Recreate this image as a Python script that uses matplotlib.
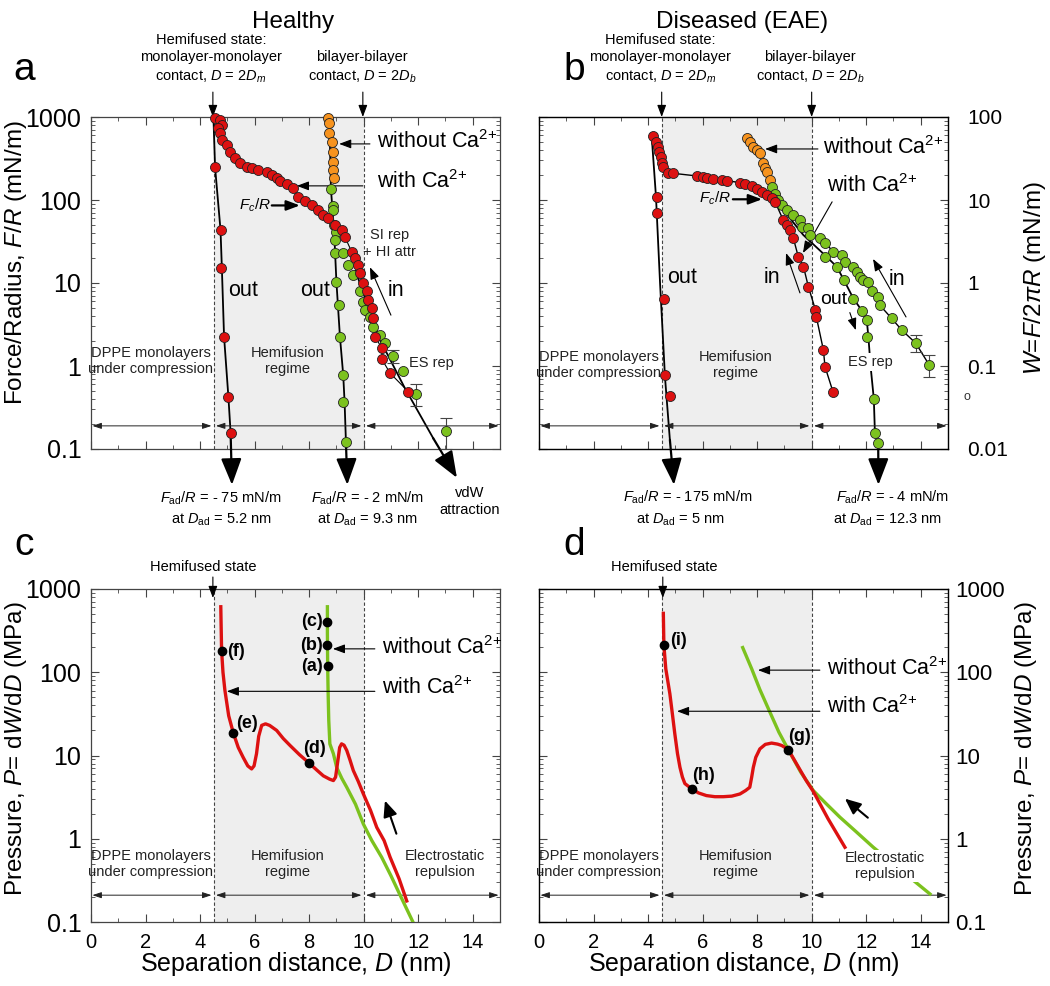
import numpy as np
import matplotlib
matplotlib.use('Agg')
import matplotlib.pyplot as plt
from matplotlib.ticker import MultipleLocator, LogLocator, FixedLocator, FixedFormatter, NullFormatter

plt.rcParams['font.family'] = ['Liberation Sans', 'DejaVu Sans']
plt.rcParams['mathtext.fontset'] = 'custom'
plt.rcParams['mathtext.rm'] = 'Liberation Sans'
plt.rcParams['mathtext.it'] = 'Liberation Sans:italic'
plt.rcParams['mathtext.bf'] = 'Liberation Sans:bold'
plt.rcParams['axes.linewidth'] = 0.9

RED = '#dd1111'
GREEN = '#7cc21e'
ORANGE = '#f7931e'
SHADE = '#eeeeee'
CA = r'Ca$^{2{+}}$'

# ---------------- panel a : healthy, force runs ----------------
h_red_in_x = [4.55, 4.73, 4.79, 4.67, 4.73, 4.79, 4.97, 5.10, 5.28, 5.46, 5.71, 5.89, 6.14, 6.44,
              6.63, 6.81, 6.93, 7.17, 7.42, 7.60, 7.85, 8.09, 8.34, 8.52, 8.70, 8.95, 9.19, 9.31,
              9.56, 9.68, 9.80, 9.86, 9.99, 10.11, 10.17, 10.30, 10.36, 10.42, 10.67, 10.67, 10.97, 11.64]
h_red_in_y = [964, 920, 801, 730, 636, 528, 460, 382, 318, 277, 248, 241, 230, 219,
              200, 182, 171, 156, 138, 110, 98, 87, 76, 66, 60, 50, 43.6, 36,
              23.8, 19.9, 16.5, 13.1, 9.9, 7.9, 6.2, 4.95, 3.76, 2.25, 1.63, 1.2, 0.82, 0.49]
h_red_out_x = [4.55, 4.75, 4.75, 4.88, 5.04, 5.12]
h_red_out_y = [248, 43.6, 15.0, 2.25, 0.42, 0.157]
h_red_line_x = [4.49, 4.55, 4.75, 4.80, 4.88, 5.04, 5.12]
h_red_line_y = [1000, 248, 43.6, 15.0, 2.25, 0.42, 0.157]

h_orange_x = [8.70, 8.73, 8.74, 8.83, 8.86, 8.89, 8.86, 8.91]
h_orange_y = [964, 843, 636, 504, 382, 290, 230, 182]
h_green_in_x = [8.79, 8.89, 8.86, 8.91, 8.99, 8.95, 8.95, 9.25, 9.44, 9.62, 9.86, 9.99, 10.05,
                10.23, 10.36, 10.60, 10.79, 11.09, 11.46, 11.92, 13.02]
h_green_in_y = [135, 85, 76, 50, 41.5, 33, 22.8, 22.8, 16.5, 12.5, 7.9, 5.95, 4.73,
                3.93, 2.97, 2.36, 1.88, 1.32, 0.88, 0.46, 0.165]
h_green_out_x = [8.99, 9.11, 9.13, 9.25, 9.23, 9.35]
h_green_out_y = [10.4, 5.43, 2.25, 0.78, 0.37, 0.121]
h_bil_line_x = [8.74, 8.80, 8.92, 9.00, 9.13, 9.25, 9.30, 9.35]
h_bil_line_y = [1000, 135, 40, 10.4, 2.25, 0.78, 0.37, 0.121]
h_vdw_line_x = [9.70, 10.60, 11.50, 12.55]
h_vdw_line_y = [14, 2.06, 0.55, 0.135]
h_err_x = [11.09, 11.92, 13.02]
h_err_y = [1.32, 0.46, 0.165]
h_err_lo = [1.08, 0.33, 0.10]
h_err_hi = [1.56, 0.61, 0.236]

# ---------------- panel b : diseased, force runs ----------------
d_red_in_x = [4.19, 4.29, 4.38, 4.41, 4.46, 4.50, 4.56, 4.74, 4.90, 5.78, 6.03, 6.15, 6.39, 6.70,
              6.88, 7.37, 7.55, 7.80, 7.98, 8.17, 8.35, 8.53, 8.66, 8.96, 9.08, 9.21, 9.33, 9.51,
              9.70, 9.88, 10.14, 10.17, 10.43, 10.49, 10.79]
d_red_in_y = [590, 505, 440, 382, 327, 277, 252, 213, 210, 195, 191, 182, 179, 174,
              171, 162, 156, 148, 135, 126, 115, 105, 95, 57, 50, 43.6, 34.5, 20.7,
              15.7, 9.0, 4.73, 3.93, 1.56, 0.98, 0.48]
d_red_out_x = [4.32, 4.32, 4.58, 4.62, 4.80]
d_red_out_y = [108, 70, 6.5, 0.78, 0.435]
d_red_line_x = [4.13, 4.29, 4.44, 4.62, 4.80]
d_red_line_y = [606, 110, 9.9, 0.74, 0.129]

d_orange_x = [7.62, 7.74, 7.84, 7.98, 8.11, 8.23, 8.29, 8.37, 8.47]
d_orange_y = [554, 496, 440, 400, 365, 277, 241, 219, 174]
d_green_in_x = [8.53, 8.65, 8.78, 8.90, 9.08, 9.33, 9.57, 9.63, 9.88, 9.94, 10.30, 10.49, 10.79,
                11.10, 11.22, 11.53, 11.65, 11.77, 11.87, 12.08, 12.20, 12.44, 12.50, 12.93,
                13.30, 13.82, 14.31]
d_green_in_y = [145, 118, 100, 87, 76, 66, 57, 47.6, 45.6, 38, 34.5, 30.6, 23.8,
                21.7, 18.1, 15.7, 13.7, 11.9, 10.9, 10.4, 7.9, 6.7, 5.4, 3.76,
                2.72, 1.88, 1.03]
d_green_out_x = [10.49, 10.92, 11.18, 11.53, 11.85, 12.02, 12.02, 12.28, 12.32, 12.44]
d_green_out_y = [20.7, 15.7, 10.9, 6.5, 4.6, 3.58, 2.25, 0.40, 0.155, 0.117]
d_out_line_x = [8.96, 9.69, 10.55, 10.92, 11.18, 11.53, 11.85, 12.02, 12.08, 12.16, 12.28, 12.32, 12.44]
d_out_line_y = [76, 38, 20.7, 15.7, 10.9, 6.5, 4.6, 3.58, 2.25, 1.0, 0.40, 0.155, 0.117]
d_err_x = [13.82, 14.31]
d_err_y = [1.88, 1.03]
d_err_lo = [1.49, 0.74]
d_err_hi = [2.36, 1.36]

# ---------------- panel c : healthy, pressure ----------------
c_red_x = [4.76, 4.77, 4.79, 4.84, 4.91, 5.05, 5.22, 5.40, 5.58, 5.75, 5.89, 5.98, 6.07, 6.15, 6.26,
           6.40, 6.55, 6.81, 7.05, 7.30, 7.65, 8.00, 8.30, 8.52, 8.75, 8.89, 8.97, 9.05, 9.12, 9.19,
           9.28, 9.38, 9.50, 9.62, 9.80, 9.99, 10.25, 10.48, 10.75, 10.97, 11.30, 11.58]
c_red_y = [612, 400, 181, 100, 61, 30, 18.6, 12.5, 9.5, 7.5, 6.9, 7.5, 10.5, 17, 23,
           24, 23, 20, 16, 13.2, 10.2, 8.1, 6.6, 5.7, 5.2, 5.0, 5.5, 8.5, 12.5, 13.8,
           13.3, 11.5, 8.8, 6.6, 4.9, 3.45, 2.2, 1.37, 0.95, 0.6, 0.33, 0.179]
c_green_x = [8.67, 8.67, 8.68, 8.70, 8.72, 8.76, 8.89, 9.01, 9.20, 9.38, 9.70, 9.99, 10.30, 10.66,
             11.00, 11.40, 11.82]
c_green_y = [612, 300, 116, 50, 26.4, 13.8, 10.5, 7.2, 5.3, 4.15, 2.6, 1.50, 0.95, 0.60,
             0.36, 0.19, 0.098]
c_pts_x = [8.70, 8.67, 8.67, 8.00, 5.22, 4.79]
c_pts_y = [118, 211, 404, 8.1, 18.6, 181]
c_pts_lab = ['(a)', '(b)', '(c)', '(d)', '(e)', '(f)']

# ---------------- panel d : diseased, pressure ----------------
dd_red_x = [4.56, 4.57, 4.58, 4.65, 4.80, 4.90, 4.98, 5.08, 5.17, 5.26, 5.35, 5.60, 5.85, 6.14, 6.45,
            6.76, 7.07, 7.37, 7.58, 7.73, 7.80, 7.86, 7.95, 8.10, 8.30, 8.53, 8.75, 8.90, 9.14,
            9.50, 9.80, 10.06, 10.60, 11.22]
dd_red_y = [510, 330, 211, 110, 55, 30, 18.3, 10.5, 7.2, 5.5, 4.6, 3.97, 3.55, 3.3, 3.2,
            3.2, 3.25, 3.45, 3.8, 4.15, 5.5, 7.2, 9.5, 12, 13.6, 14.1, 13.7, 13.2, 11.8,
            7.4, 5.0, 3.7, 1.74, 0.79]
dd_green_x = [7.47, 7.80, 8.10, 8.41, 8.80, 9.14, 9.60, 10.06, 10.50, 11.04, 11.60, 12.26, 12.90,
              13.71, 14.34]
dd_green_y = [198, 110, 62, 36.6, 19, 11.8, 6.3, 3.79, 2.7, 1.81, 1.24, 0.79, 0.53, 0.32, 0.217]
dd_pts_x = [9.14, 5.60, 4.58]
dd_pts_y = [11.8, 3.97, 211]
dd_pts_lab = ['(g)', '(h)', '(i)']

W, H = 1050, 986
fig = plt.figure(figsize=(W / 100, H / 100), dpi=100)


def px_axes(l, t, r, b):
    return fig.add_axes([l / W, 1 - b / H, (r - l) / W, (b - t) / H])


def arrow(ax, tail, head, lw=0.8, hl=0.7, hw=0.25, ms=12, coords='data'):
    ax.annotate('', xy=head, xytext=tail, xycoords=coords, textcoords=coords,
                arrowprops=dict(arrowstyle=f'-|>,head_length={hl},head_width={hw}',
                                color='k', lw=lw, mutation_scale=ms, shrinkA=0, shrinkB=0),
                annotation_clip=False)


def base(ax, ylim, ylab_vals, show_left):
    ax.set_yscale('log')
    ax.set_xlim(0, 15)
    ax.set_ylim(*ylim)
    ax.axvspan(4.5, 10, color=SHADE, zorder=0, lw=0)
    for xv in (4.5, 10):
        ax.axvline(xv, color='#444444', lw=0.8, ls=(0, (3, 2)), zorder=1)
    ax.xaxis.set_major_locator(MultipleLocator(2))
    ax.xaxis.set_minor_locator(MultipleLocator(1))
    ax.yaxis.set_major_locator(FixedLocator(ylab_vals))
    ax.yaxis.set_minor_locator(LogLocator(base=10, subs=np.arange(2, 10), numticks=20))
    ax.yaxis.set_minor_formatter(NullFormatter())
    ax.tick_params(which='both', direction='in', top=True, right=True, color='#444444')
    ax.tick_params(which='major', length=6, width=0.8, labelsize=18, pad=7)
    ax.tick_params(which='minor', length=3, width=0.6)
    ax.tick_params(axis='x', labelsize=14.5, pad=8)
    if show_left:
        ax.yaxis.set_major_formatter(FixedFormatter([f'{v:g}' for v in ylab_vals]))
    else:
        ax.yaxis.set_major_formatter(NullFormatter())
    for s in ax.spines.values():
        s.set_color('#444444')


def regions(ax, yarr, ytxt):
    for a0, a1 in ((0.05, 4.42), (4.58, 9.92), (10.08, 14.95)):
        ax.annotate('', xy=(a1, yarr), xytext=(a0, yarr),
                    arrowprops=dict(arrowstyle='<|-|>,head_length=0.6,head_width=0.2', color='#222222',
                                    lw=0.7, mutation_scale=9, shrinkA=0, shrinkB=0))
    ax.text(2.2, ytxt, 'DPPE monolayers\nunder compression', ha='center', va='center',
            fontsize=10.5, linespacing=1.15, color='#222222')
    ax.text(7.2, ytxt, 'Hemifusion\nregime', ha='center', va='center',
            fontsize=10.5, linespacing=1.15, color='#222222')


def dots(ax, x, y, color, z=4):
    ax.plot(x, y, 'o', ms=7.2, mfc=color, mec='#222222', mew=0.6, zorder=z, clip_on=False)


yvals = [0.1, 1, 10, 100, 1000]
ax_a = px_axes(91, 117, 500, 449)
ax_b = px_axes(539, 117, 948, 449)
ax_c = px_axes(91, 589, 500, 922)
ax_d = px_axes(539, 589, 948, 922)
for ax, left in ((ax_a, True), (ax_b, False), (ax_c, True), (ax_d, False)):
    base(ax, (0.1, 1000), yvals, left)
ax_a.xaxis.set_major_formatter(NullFormatter())
ax_b.xaxis.set_major_formatter(NullFormatter())

# ---------------- panel a ----------------
ax = ax_a
regions(ax, 0.19, 1.15)
ax.plot(h_red_line_x, h_red_line_y, color='k', lw=1.3, zorder=2)
arrow(ax, (h_red_line_x[-1], h_red_line_y[-1]), (5.17, 0.037), lw=1.6, hl=0.9, hw=0.35, ms=18)
ax.plot(h_bil_line_x, h_bil_line_y, color='k', lw=1.3, zorder=2)
arrow(ax, (h_bil_line_x[-1], h_bil_line_y[-1]), (9.40, 0.037), lw=1.6, hl=0.9, hw=0.35, ms=18)
ax.plot(h_vdw_line_x, h_vdw_line_y, color='k', lw=1.3, zorder=2)
arrow(ax, (h_vdw_line_x[-1], h_vdw_line_y[-1]), (13.42, 0.045), lw=1.6, hl=0.9, hw=0.35, ms=18)
ax.plot(h_red_in_x, h_red_in_y, color='k', lw=0.8, zorder=2)
ax.errorbar(h_err_x, h_err_y, yerr=[np.subtract(h_err_y, h_err_lo), np.subtract(h_err_hi, h_err_y)],
            fmt='none', ecolor='#444444', elinewidth=0.8, capsize=4, capthick=0.8, zorder=3)
dots(ax, h_orange_x, h_orange_y, ORANGE)
dots(ax, h_green_in_x, h_green_in_y, GREEN)
dots(ax, h_green_out_x, h_green_out_y, GREEN)
dots(ax, h_red_out_x, h_red_out_y, RED)
dots(ax, h_red_in_x, h_red_in_y, RED, z=5)

ax.text(10.49, 500, 'without ' + CA, fontsize=15.5, va='center')
arrow(ax, (10.23, 474), (9.1, 474), lw=0.8, hl=0.8, hw=0.3, ms=9)
ax.text(10.49, 168, 'with ' + CA, fontsize=15.5, va='center')
arrow(ax, (9.97, 148), (7.55, 148), lw=0.8, hl=0.8, hw=0.3, ms=9)
ax.text(6.0, 87, r'$F_c/R$', fontsize=11, ha='center', va='center')
arrow(ax, (6.63, 86), (7.66, 86), lw=1.6, hl=0.8, hw=0.3, ms=10)
ax.text(5.57, 8.2, 'out', fontsize=15.5, ha='center', va='center')
ax.text(8.21, 8.2, 'out', fontsize=15.5, ha='center', va='center')
ax.text(11.2, 8.2, 'in', fontsize=15.5, ha='center', va='center')
arrow(ax, (11.0, 4.1), (10.23, 15.5), lw=0.8, hl=0.8, hw=0.3, ms=9)
ax.text(10.96, 37.8, 'SI rep', fontsize=10.5, ha='center', va='center', color='#222222')
ax.text(10.96, 23.6, '+ HI attr', fontsize=10.5, ha='center', va='center', color='#222222')
ax.text(12.5, 1.09, 'ES rep', fontsize=10.5, ha='center', va='center', color='#222222')

xt = ax.get_xaxis_transform()
ax.text(4.4, 1.232, 'Hemifused state:', transform=xt, ha='center', va='center', fontsize=10.5)
ax.text(4.4, 1.181, 'monolayer-monolayer', transform=xt, ha='center', va='center', fontsize=10.5)
ax.text(4.4, 1.120, r'contact, $D$ = 2$D_m$', transform=xt, ha='center', va='center', fontsize=10.5)
ax.text(9.95, 1.181, 'bilayer-bilayer', transform=xt, ha='center', va='center', fontsize=10.5)
ax.text(9.95, 1.120, r'contact, $D$ = 2$D_b$', transform=xt, ha='center', va='center', fontsize=10.5)
arrow(ax, (4.47, 1.075), (4.47, 1.0), coords=xt, lw=0.8, hl=0.8, hw=0.3, ms=9)
arrow(ax, (9.97, 1.075), (9.97, 1.0), coords=xt, lw=0.8, hl=0.8, hw=0.3, ms=9)
ax.text(4.77, -0.148, r'$F_{\rm ad}/R$ = - 75 mN/m', transform=xt, ha='center', va='center', fontsize=10.5)
ax.text(4.77, -0.214, r'at $D_{\rm ad}$ = 5.2 nm', transform=xt, ha='center', va='center', fontsize=10.5)
ax.text(10.15, -0.148, r'$F_{\rm ad}/R$ = - 2 mN/m', transform=xt, ha='center', va='center', fontsize=10.5)
ax.text(10.15, -0.214, r'at $D_{\rm ad}$ = 9.3 nm', transform=xt, ha='center', va='center', fontsize=10.5)
ax.text(13.9, -0.133, 'vdW', transform=xt, ha='center', va='center', fontsize=10.5)
ax.text(13.9, -0.183, 'attraction', transform=xt, ha='center', va='center', fontsize=10.5)
ax.set_ylabel(r'Force/Radius, $F/R$ (mN/m)', fontsize=17.5)
ax.yaxis.set_label_coords(-0.152, 0.56)

# ---------------- panel b ----------------
ax = ax_b
regions(ax, 0.19, 1.03)
ax.plot(d_red_line_x, d_red_line_y, color='k', lw=1.3, zorder=2)
arrow(ax, (d_red_line_x[-1], d_red_line_y[-1]), (4.95, 0.037), lw=1.6, hl=0.9, hw=0.35, ms=18)
ax.plot(d_out_line_x, d_out_line_y, color='k', lw=1.3, zorder=2)
arrow(ax, (d_out_line_x[-1], d_out_line_y[-1]), (12.45, 0.037), lw=1.6, hl=0.9, hw=0.35, ms=18)
ax.plot(d_red_in_x[8:], d_red_in_y[8:], color='k', lw=1.0, zorder=2)
ax.plot(d_green_in_x, d_green_in_y, color='k', lw=1.0, zorder=2)
ax.errorbar(d_err_x, d_err_y, yerr=[np.subtract(d_err_y, d_err_lo), np.subtract(d_err_hi, d_err_y)],
            fmt='none', ecolor='#444444', elinewidth=0.8, capsize=4, capthick=0.8, zorder=3)
dots(ax, d_orange_x, d_orange_y, ORANGE)
dots(ax, d_green_in_x, d_green_in_y, GREEN)
dots(ax, d_green_out_x, d_green_out_y, GREEN)
dots(ax, d_red_out_x, d_red_out_y, RED)
dots(ax, d_red_in_x, d_red_in_y, RED, z=5)

ax.text(10.41, 434, 'without ' + CA, fontsize=15.5, va='center')
arrow(ax, (10.23, 412), (8.29, 412), lw=0.8, hl=0.8, hw=0.3, ms=9)
ax.text(10.56, 150, 'with ' + CA, fontsize=15.5, va='center')
arrow(ax, (10.75, 95), (9.68, 23), lw=0.8, hl=0.8, hw=0.3, ms=9)
ax.text(6.45, 105, r'$F_c/R$', fontsize=11, ha='center', va='center')
arrow(ax, (7.11, 102), (8.18, 102), lw=1.6, hl=0.8, hw=0.3, ms=10)
ax.text(5.25, 11.5, 'out', fontsize=15.5, ha='center', va='center')
ax.text(8.54, 11.5, 'in', fontsize=15.5, ha='center', va='center')
arrow(ax, (9.57, 7.6), (9.06, 23), lw=0.8, hl=0.8, hw=0.3, ms=9)
ax.text(10.82, 6.4, 'out', fontsize=14, ha='center', va='center',
        bbox=dict(fc='white', ec='none', pad=0.5))
arrow(ax, (11.40, 4.4), (11.62, 2.7), lw=0.8, hl=0.8, hw=0.3, ms=9)
ax.text(13.13, 10.9, 'in', fontsize=15.5, ha='center', va='center')
arrow(ax, (13.46, 3.9), (12.25, 19.5), lw=0.8, hl=0.8, hw=0.3, ms=9)
ax.text(12.17, 1.12, 'ES rep', fontsize=10.5, ha='center', va='center', color='#222222',
        bbox=dict(fc='white', ec='none', pad=1.5), zorder=6)

xt = ax.get_xaxis_transform()
ax.text(4.45, 1.232, 'Hemifused state:', transform=xt, ha='center', va='center', fontsize=10.5)
ax.text(4.45, 1.181, 'monolayer-monolayer', transform=xt, ha='center', va='center', fontsize=10.5)
ax.text(4.45, 1.120, r'contact, $D$ = 2$D_m$', transform=xt, ha='center', va='center', fontsize=10.5)
ax.text(9.95, 1.181, 'bilayer-bilayer', transform=xt, ha='center', va='center', fontsize=10.5)
ax.text(9.95, 1.120, r'contact, $D$ = 2$D_b$', transform=xt, ha='center', va='center', fontsize=10.5)
arrow(ax, (4.5, 1.075), (4.5, 1.0), coords=xt, lw=0.8, hl=0.8, hw=0.3, ms=9)
arrow(ax, (10.0, 1.075), (10.0, 1.0), coords=xt, lw=0.8, hl=0.8, hw=0.3, ms=9)
ax.text(5.47, -0.145, r'$F_{\rm ad}/R$ = - 175 mN/m', transform=xt, ha='center', va='center', fontsize=10.5)
ax.text(5.2, -0.214, r'at $D_{\rm ad}$ = 5 nm', transform=xt, ha='center', va='center', fontsize=10.5)
ax.text(12.97, -0.145, r'$F_{\rm ad}/R$ = - 4 mN/m', transform=xt, ha='center', va='center', fontsize=10.5)
ax.text(12.8, -0.214, r'at $D_{\rm ad}$ = 12.3 nm', transform=xt, ha='center', va='center', fontsize=10.5)

tw_b = ax_b.twinx()
tw_b.set_yscale('log')
tw_b.set_ylim(0.01, 100)
tw_b.yaxis.set_major_locator(FixedLocator([0.01, 0.1, 1, 10, 100]))
tw_b.yaxis.set_major_formatter(FixedFormatter(['0.01', '0.1', '1', '10', '100']))
tw_b.yaxis.set_minor_locator(LogLocator(base=10, subs=np.arange(2, 10), numticks=20))
tw_b.yaxis.set_minor_formatter(NullFormatter())
tw_b.tick_params(which='both', direction='in', color='#444444')
tw_b.tick_params(which='major', length=6, width=0.8, labelsize=15, pad=14)
tw_b.tick_params(which='minor', length=3, width=0.6)
tw_b.set_ylabel(r'$W$=$F$/2$\pi R$ (mN/m)', fontsize=17.5)
tw_b.yaxis.set_label_coords(1.18, 0.515)
fig.text(967 / W, 1 - 397 / H, 'o', fontsize=9, ha='center', va='center', color='#333333')

# ---------------- panel c ----------------
ax = ax_c
regions(ax, 0.21, 0.5)
ax.text(12.98, 0.5, 'Electrostatic\nrepulsion', ha='center', va='center', fontsize=10.5,
        linespacing=1.15, color='#222222', bbox=dict(fc='white', ec='none', pad=0.5), zorder=1.5)
ax.plot(c_green_x, c_green_y, color=GREEN, lw=2.4, zorder=3)
ax.plot(c_red_x, c_red_y, color=RED, lw=2.4, zorder=3)
ax.plot(c_pts_x, c_pts_y, 'o', color='k', ms=6, zorder=5)
for x, y, t in zip(c_pts_x[:3], c_pts_y[:3], c_pts_lab[:3]):
    ax.text(x - 0.18, y, t, ha='right', va='center', fontsize=13, fontweight='bold')
ax.text(c_pts_x[3] - 0.23, 12.1, c_pts_lab[3], ha='left', va='center', fontsize=13, fontweight='bold')
ax.text(c_pts_x[4] + 0.1, 24.3, c_pts_lab[4], ha='left', va='center', fontsize=13, fontweight='bold')
ax.text(c_pts_x[5] + 0.2, 178, c_pts_lab[5], ha='left', va='center', fontsize=13, fontweight='bold')
ax.text(10.67, 196, 'without ' + CA, fontsize=15.5, va='center')
arrow(ax, (10.41, 191), (8.87, 191), lw=0.8, hl=0.8, hw=0.3, ms=9)
ax.text(10.67, 66, 'with ' + CA, fontsize=15.5, va='center')
arrow(ax, (10.41, 59), (4.98, 59), lw=0.8, hl=0.8, hw=0.3, ms=9)
arrow(ax, (11.2, 1.15), (10.78, 2.87), lw=1.5, hl=0.8, hw=0.35, ms=12)
xt = ax.get_xaxis_transform()
ax.text(4.1, 1.066, 'Hemifused state', transform=xt, ha='center', va='center', fontsize=10.5)
arrow(ax, (4.47, 1.036), (4.47, 0.973), coords=xt, lw=0.8, hl=0.8, hw=0.3, ms=9)
ax.set_ylabel(r'Pressure, $P$= d$W$/d$D$ (MPa)', fontsize=17.5)
ax.yaxis.set_label_coords(-0.152, 0.52)
ax.set_xlabel(r'Separation distance, $D$ (nm)', fontsize=18)
ax.xaxis.set_label_coords(0.5, -0.085)

# ---------------- panel d ----------------
ax = ax_d
regions(ax, 0.21, 0.5)
ax.plot(dd_green_x, dd_green_y, color=GREEN, lw=2.4, zorder=3)
ax.text(12.7, 0.47, 'Electrostatic\nrepulsion', ha='center', va='center', fontsize=10.5,
        linespacing=1.15, color='#222222', bbox=dict(fc='white', ec='none', pad=0.5), zorder=3.5)
ax.plot(dd_red_x, dd_red_y, color=RED, lw=2.4, zorder=4)
ax.plot(dd_pts_x, dd_pts_y, 'o', color='k', ms=6, zorder=5)
ax.text(9.13, 16.9, dd_pts_lab[0], ha='left', va='center', fontsize=13, fontweight='bold')
ax.text(5.61, 5.7, dd_pts_lab[1], ha='left', va='center', fontsize=13, fontweight='bold')
ax.text(4.80, 240, dd_pts_lab[2], ha='left', va='center', fontsize=13, fontweight='bold')
ax.text(10.56, 112, 'without ' + CA, fontsize=15.5, va='center')
arrow(ax, (10.3, 106), (8.03, 106), lw=0.8, hl=0.8, hw=0.3, ms=9)
ax.text(10.56, 39, 'with ' + CA, fontsize=15.5, va='center')
arrow(ax, (10.3, 34), (5.06, 34), lw=0.8, hl=0.8, hw=0.3, ms=9)
arrow(ax, (12.06, 1.79), (11.22, 3.03), lw=1.5, hl=0.8, hw=0.35, ms=12)
xt = ax.get_xaxis_transform()
ax.text(4.6, 1.066, 'Hemifused state', transform=xt, ha='center', va='center', fontsize=10.5)
arrow(ax, (4.54, 1.036), (4.54, 0.973), coords=xt, lw=0.8, hl=0.8, hw=0.3, ms=9)
ax.set_xlabel(r'Separation distance, $D$ (nm)', fontsize=18)
ax.xaxis.set_label_coords(0.5, -0.085)

tw_d = ax_d.twinx()
tw_d.set_yscale('log')
tw_d.set_ylim(0.1, 1000)
tw_d.yaxis.set_major_locator(FixedLocator(yvals))
tw_d.yaxis.set_major_formatter(FixedFormatter([f'{v:g}' for v in yvals]))
tw_d.yaxis.set_minor_locator(LogLocator(base=10, subs=np.arange(2, 10), numticks=20))
tw_d.yaxis.set_minor_formatter(NullFormatter())
tw_d.tick_params(which='both', direction='in', color='#444444')
tw_d.tick_params(which='major', length=6, width=0.8, labelsize=16, pad=5)
tw_d.tick_params(which='minor', length=3, width=0.6)
tw_d.set_ylabel(r'Pressure, $P$= d$W$/d$D$ (MPa)', fontsize=17.5)
tw_d.yaxis.set_label_coords(1.16, 0.52)

# ---------------- titles and panel letters ----------------
fig.text(293 / W, 1 - 22 / H, 'Healthy', ha='center', va='center', fontsize=17.5)
fig.text(742 / W, 1 - 22 / H, 'Diseased (EAE)', ha='center', va='center', fontsize=17.5)
for t, x, y in (('a', 24, 70), ('b', 574, 70), ('c', 24, 545), ('d', 574, 545)):
    fig.text(x / W, 1 - y / H, t, ha='center', va='center', fontsize=28)

fig.savefig('out.png', dpi=100)
